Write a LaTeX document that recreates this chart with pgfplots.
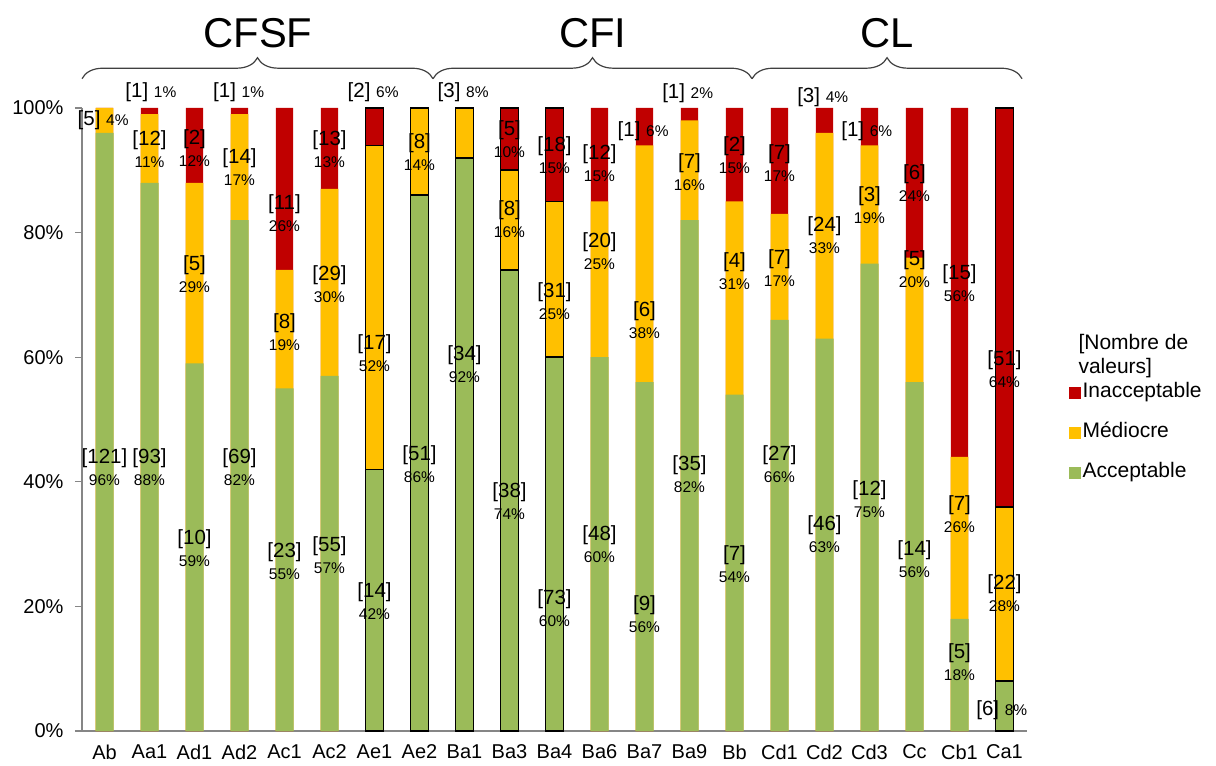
\documentclass[border=0pt]{standalone}
\usepackage{fontspec}
\setmainfont{Liberation Sans}
\usepackage{pgfplots}
\pgfplotsset{compat=1.18}
\usepackage{pgfplotstable}
\usetikzlibrary{decorations.pathreplacing}
\definecolor{cG}{HTML}{9BBB59}
\definecolor{cY}{HTML}{FFC000}
\definecolor{cR}{HTML}{C00000}
\definecolor{cAx}{RGB}{134,134,134}
\newcommand{\fa}{\fontsize{20.5}{22}\selectfont}
\newcommand{\fb}{\fontsize{15.5}{17}\selectfont}
\newcommand{\lab}[4]{\node[font=\fa, yshift=11pt] at (axis cs:#1,#2) {[#3]};\node[font=\fb, yshift=-11pt] at (axis cs:#1,#2) {#4\%};}
\newcommand{\labo}[4]{\node at (axis cs:#1,#2) {\fa[#3] \fb#4\%};}

\pgfplotstableread{
x acc med inac
0 96 4 0
1 88 11 1
2 59 29 12
3 82 17 1
4 55 19 26
5 57 30 13
11 60 25 15
12 56 38 6
13 82 16 2
14 54 31 15
15 66 17 17
16 63 33 4
17 75 19 6
18 56 20 24
19 18 26 56
}\plaindata
\pgfplotstableread{
x acc med inac
6 42 52 6
7 86 14 0
8 92 8 0
9 74 16 10
10 60 25 15
20 8 28 64
}\outldata

\begin{document}
\begin{tikzpicture}
\useasboundingbox (0,0) rectangle (1216pt,766pt);
\begin{axis}[
  at={(82pt,35pt)}, anchor=south west,
  scale only axis, width=945pt, height=623pt,
  xmin=-0.5, xmax=20.5, ymin=0, ymax=100,
  clip=false,
  axis x line*=bottom, axis y line*=left,
  axis line style={cAx, line width=1.3pt},
  tick align=outside, major tick length=7pt,
  xtick={0,...,20},
  xticklabels={Ab,Aa1,Ad1,Ad2,Ac1,Ac2,Ae1,Ae2,Ba1,Ba3,Ba4,Ba6,Ba7,Ba9,Bb,Cd1,Cd2,Cd3,Cc,Cb1,Ca1},
  x tick label style={font=\fontsize{20}{22}\selectfont, yshift=-3pt},
  xtick style={draw=none},
  extra x ticks={-0.5,0.5,...,20.5},
  extra x tick labels={},
  extra x tick style={tick style={draw=cAx, line width=1.3pt}, major tick length=7pt},
  ytick={0,20,...,100},
  yticklabel={\pgfmathprintnumber{\tick}\%},
  y tick label style={font=\fontsize{20}{22}\selectfont, xshift=-8pt, /pgf/number format/assume math mode=true},
  ytick style={draw=cAx, line width=1.3pt},
  legend cell align=left,
  legend style={draw=none, fill=none, at={(rel axis cs:1.0444,0.4784)}, anchor=west,
    font=\fontsize{21}{24}\selectfont, row sep=16pt, inner sep=0pt,
    nodes={inner sep=2pt, text height=15pt, text depth=5pt}},
]
% plain bars (cumulative tops drawn from the back)
\addplot[ybar, bar width=17.2pt, bar shift=0pt, fill=cR, draw=none, forget plot]
  table[x=x, y expr=\thisrow{acc}+\thisrow{med}+\thisrow{inac}] {\plaindata};
\addplot[ybar, bar width=17.6pt, bar shift=0pt, fill=cY, draw=none, forget plot]
  table[x=x, y expr=\thisrow{acc}+\thisrow{med}] {\plaindata};
\addplot[ybar, bar width=18pt, bar shift=0pt, fill=cG, draw=none, forget plot]
  table[x=x, y=acc] {\plaindata};
% outlined bars
\addplot[ybar, bar width=18pt, bar shift=0pt, fill=cR, draw=black, line width=1.6pt, forget plot]
  table[x=x, y expr=\thisrow{acc}+\thisrow{med}+\thisrow{inac}] {\outldata};
\addplot[ybar, bar width=18pt, bar shift=0pt, fill=cY, draw=black, line width=1.6pt, forget plot]
  table[x=x, y expr=\thisrow{acc}+\thisrow{med}] {\outldata};
\addplot[ybar, bar width=18pt, bar shift=0pt, fill=cG, draw=black, line width=1.6pt, forget plot]
  table[x=x, y=acc] {\outldata};

\addlegendimage{legend image code/.code={\fill[cR] (0pt,-5.5pt) rectangle (11pt,5.5pt);}}
\addlegendentry{Inacceptable}
\addlegendimage{legend image code/.code={\fill[cY] (0pt,-5.5pt) rectangle (11pt,5.5pt);}}
\addlegendentry{Médiocre}
\addlegendimage{legend image code/.code={\fill[cG] (0pt,-5.5pt) rectangle (11pt,5.5pt);}}
\addlegendentry{Acceptable}

% labels
\lab{0}{42}{121}{96}
\labo{-0.03}{98.1}{5}{4}
\labo{1.03}{102.6}{1}{1}
\lab{1}{93.1}{12}{11}
\lab{1}{42}{93}{88}
\lab{2}{93.3}{2}{12}
\lab{2}{73}{5}{29}
\lab{2}{29}{10}{59}
\labo{2.98}{102.6}{1}{1}
\lab{3}{90.2}{14}{17}
\lab{3}{42}{69}{82}
\lab{4}{82.8}{11}{26}
\lab{4}{63.7}{8}{19}
\lab{4}{27}{23}{55}
\lab{5}{93.1}{13}{13}
\lab{5}{71.4}{29}{30}
\lab{5}{27.9}{55}{57}
\labo{5.97}{102.6}{2}{6}
\lab{6}{60.4}{17}{52}
\lab{6}{20.5}{14}{42}
\lab{7}{92.6}{8}{14}
\lab{7}{42.5}{51}{86}
\labo{7.97}{102.6}{3}{8}
\lab{8}{58.6}{34}{92}
\lab{9}{94.7}{5}{10}
\lab{9}{81.9}{8}{16}
\lab{9}{36.6}{38}{74}
\lab{10}{92.1}{18}{15}
\lab{10}{68.7}{31}{25}
\lab{10}{19.4}{73}{60}
\lab{11}{90.8}{12}{15}
\lab{11}{76.7}{20}{25}
\lab{11}{29.7}{48}{60}
\labo{11.97}{96.3}{1}{6}
\lab{12}{65.6}{6}{38}
\lab{12}{18.5}{9}{56}
\labo{12.96}{102.4}{1}{2}
\lab{13}{89.4}{7}{16}
\lab{13}{40.9}{35}{82}
\lab{14}{92.1}{2}{15}
\lab{14}{73.5}{4}{31}
\lab{14}{26.5}{7}{54}
\lab{15}{90.8}{7}{17}
\lab{15}{74}{7}{17}
\lab{15}{42.5}{27}{66}
\labo{15.96}{101.8}{3}{4}
\lab{16}{79.3}{24}{33}
\lab{16}{31.3}{46}{63}
\labo{16.94}{96.3}{1}{6}
\lab{17}{84.1}{3}{19}
\lab{17}{36.9}{12}{75}
\lab{18}{87.6}{6}{24}
\lab{18}{73.8}{5}{20}
\lab{18}{27.3}{14}{56}
\lab{19}{71.6}{15}{56}
\lab{19}{34.5}{7}{26}
\lab{19}{10.8}{5}{18}
\lab{20}{57.8}{51}{64}
\lab{20}{21.8}{22}{28}
\labo{19.94}{3.4}{6}{8}

% braces and group titles
\draw[black!75, line width=1.2pt, decorate, decoration={brace, amplitude=21pt}]
  (axis cs:-0.5,104.7) -- (axis cs:7.3,104.7);
\draw[black!75, line width=1.2pt, decorate, decoration={brace, amplitude=21pt}]
  (axis cs:7.3,104.7) -- (axis cs:14.39,104.7);
\draw[black!75, line width=1.2pt, decorate, decoration={brace, amplitude=21pt}]
  (axis cs:14.39,104.7) -- (axis cs:20.39,104.7);
\node[font=\fontsize{41.7}{44}\selectfont] at (axis cs:3.41,112) {CFSF};
\node[font=\fontsize{41.7}{44}\selectfont] at (axis cs:10.85,112) {CFI};
\node[font=\fontsize{41.7}{44}\selectfont] at (axis cs:17.39,112) {CL};
\node[anchor=west, align=left, font=\fontsize{21}{24}\selectfont] at (rel axis cs:1.0508,0.602) {[Nombre de\\valeurs]};
\end{axis}
\end{tikzpicture}
\end{document}
